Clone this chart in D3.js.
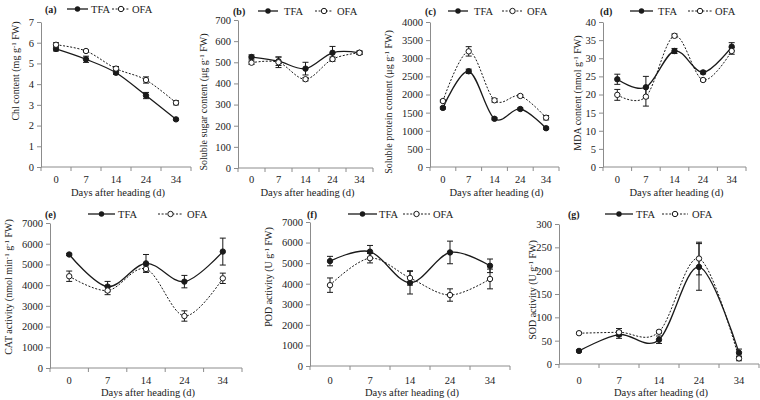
<!DOCTYPE html>
<html><head><meta charset="utf-8">
<script src="https://cdn.jsdelivr.net/npm/d3@7"></script>
<style>body{margin:0;background:#fff}svg{display:block}text{font-family:"Liberation Serif","Times New Roman",serif;fill:#222}</style>
</head><body>
<svg id="c" width="760" height="400"></svg>
<script>
const days = ["0","7","14","24","34"];
const seriesNames = ["TFA","OFA"];

const chlTFA = [5.7, 5.2, 4.55, 3.45, 2.3];
const chlTFAErr = [0.1, 0.15, 0.08, 0.15, 0.05];
const chlOFA = [5.9, 5.6, 4.75, 4.2, 3.1];
const chlOFAErr = [0.1, 0.05, 0.1, 0.15, 0.1];

const sugarTFA = [525, 505, 470, 545, 545];
const sugarTFAErr = [10, 20, 30, 30, 8];
const sugarOFA = [498, 500, 420, 515, 545];
const sugarOFAErr = [8, 25, 8, 10, 8];

const proteinTFA = [1630, 2640, 1330, 1600, 1070];
const proteinTFAErr = [30, 60, 30, 30, 30];
const proteinOFA = [1820, 3190, 1840, 1960, 1360];
const proteinOFAErr = [30, 130, 50, 30, 60];

const mdaTFA = [24.2, 22, 32, 26.1, 33.2];
const mdaTFAErr = [1.4, 3, 0.7, 0.4, 1.1];
const mdaOFA = [19.9, 19.4, 36.2, 24, 32];
const mdaOFAErr = [1.5, 2.6, 0.5, 0.3, 0.9];

const catTFA = [5480, 3930, 5050, 4170, 5620];
const catTFAErr = [50, 250, 430, 300, 650];
const catOFA = [4430, 3740, 4780, 2510, 4330];
const catOFAErr = [250, 200, 150, 250, 250];

const podTFA = [5100, 5560, 4050, 5520, 4870];
const podTFAErr = [230, 300, 550, 550, 330];
const podOFA = [3930, 5240, 4280, 3450, 4230];
const podOFAErr = [350, 230, 350, 300, 480];

const sodTFA = [28, 63, 52, 208, 24];
const sodTFAErr = [2, 8, 8, 50, 8];
const sodOFA = [66, 68, 69, 226, 12];
const sodOFAErr = [2, 8, 3, 35, 5];

const ticksA = [0,1,2,3,4,5,6,7];
const ticksB = [0,100,200,300,400,500,600,700];
const ticksC = [0,500,1000,1500,2000,2500,3000,3500,4000];
const ticksD = [0,5,10,15,20,25,30,35,40];
const ticksE = [0,1000,2000,3000,4000,5000,6000,7000];
const ticksG = [0,50,100,150,200,250,300];

const panelTags = ["(a)","(b)","(c)","(d)","(e)","(f)","(g)"];
const yTitles = [
  ["Chl content (mg g","-1"," FW)"],
  ["Soluble sugar content (μg g","-1"," FW)"],
  ["Soluble protein content (μg g","-1"," FW)"],
  ["MDA content (nmol g","-1"," FW)"],
  ["CAT activity (nmol min","-1"," g","-1"," FW)"],
  ["POD activity (U  g","-1"," FW)"],
  ["SOD activity (U g","-1"," FW)"]
];
const xTitle = "Days after heading (d)";

// layout (positions only)
const layout = [
  {x0:41, x1:191, yT:22, yB:167, yl:[15,71], lg:{tag:45,l1:[67,88],t1:91,l2:[112,130],t2:132,y:9}, xl:183, xt:196},
  {x0:238, x1:373, yT:20, yB:168, yl:[203,102], lg:{tag:233,l1:[258,278],t1:284,l2:[315,333],t2:337,y:11}, xl:183, xt:196},
  {x0:430, x1:559, yT:22, yB:167, yl:[388,102], lg:{tag:425,l1:[448,468],t1:474,l2:[502,523],t2:527,y:11}, xl:183, xt:196},
  {x0:603, x1:746, yT:22, yB:167, yl:[577,93], lg:{tag:600,l1:[630,653],t1:658,l2:[688,712],t2:715,y:11}, xl:183, xt:196},
  {x0:50, x1:242, yT:223, yB:368, yl:[8,287], lg:{tag:45,l1:[88,115],t1:118,l2:[158,183],t2:187,y:214}, xl:384, xt:396},
  {x0:310, x1:510, yT:222, yB:366, yl:[268,277], lg:{tag:307,l1:[348,377],t1:379,l2:[403,430],t2:433,y:214}, xl:384, xt:396},
  {x0:559, x1:759, yT:224, yB:364, yl:[532,290], lg:{tag:568,l1:[605,633],t1:636,l2:[662,688],t2:692,y:214}, xl:384, xt:396}
];

const panelData = [
  {tfa:chlTFA, tfaE:chlTFAErr, ofa:chlOFA, ofaE:chlOFAErr, ticks:ticksA},
  {tfa:sugarTFA, tfaE:sugarTFAErr, ofa:sugarOFA, ofaE:sugarOFAErr, ticks:ticksB},
  {tfa:proteinTFA, tfaE:proteinTFAErr, ofa:proteinOFA, ofaE:proteinOFAErr, ticks:ticksC},
  {tfa:mdaTFA, tfaE:mdaTFAErr, ofa:mdaOFA, ofaE:mdaOFAErr, ticks:ticksD},
  {tfa:catTFA, tfaE:catTFAErr, ofa:catOFA, ofaE:catOFAErr, ticks:ticksE},
  {tfa:podTFA, tfaE:podTFAErr, ofa:podOFA, ofaE:podOFAErr, ticks:ticksE},
  {tfa:sodTFA, tfaE:sodTFAErr, ofa:sodOFA, ofaE:sodOFAErr, ticks:ticksG}
];

const svg = d3.select("#c");
const axisColor = "#8c8c8c";
const lineColor = "#1a1a1a";

panelData.forEach((pd, i) => {
  const L = layout[i];
  const g = svg.append("g");
  const x = d3.scaleBand().domain(days).range([L.x0, L.x1]);
  const y = d3.scaleLinear().domain([0, d3.max(pd.ticks)]).range([L.yB, L.yT]);

  // y axis
  const ya = g.append("g").attr("transform", `translate(${L.x0},0)`)
    .call(d3.axisLeft(y).tickValues(pd.ticks).tickFormat(d3.format("d")).tickSize(4).tickSizeOuter(0).tickPadding(3));
  ya.select(".domain").attr("stroke", axisColor);
  ya.selectAll(".tick line").attr("stroke", axisColor);
  ya.selectAll(".tick text").style("font-size", "10.5px").style("font-family", '"Liberation Serif",serif').attr("fill", "#222");

  // x axis line + ticks between categories
  g.append("line").attr("x1", L.x0).attr("x2", L.x1).attr("y1", L.yB).attr("y2", L.yB).attr("stroke", axisColor);
  const bounds = days.map(d => x(d)).concat([L.x1]);
  g.selectAll(".xt").data(bounds).enter().append("line")
    .attr("x1", d => d).attr("x2", d => d).attr("y1", L.yB).attr("y2", L.yB + 4).attr("stroke", axisColor);
  g.selectAll(".xl").data(days).enter().append("text")
    .attr("x", d => x(d) + x.bandwidth() / 2).attr("y", L.xl)
    .attr("text-anchor", "middle").style("font-size", "10.5px").text(d => d);
  g.append("text").attr("x", (L.x0 + L.x1) / 2 + 2).attr("y", L.xt)
    .attr("text-anchor", "middle").style("font-size", "10.5px").text(xTitle);

  // y title
  const yt = g.append("text").attr("transform", `translate(${L.yl[0] + 4},${L.yl[1]}) rotate(-90)`)
    .attr("text-anchor", "middle").style("font-size", "10px");
  yTitles[i].forEach((part, k) => {
    const sup = part === "-1";
    yt.append("tspan").text(part)
      .attr("dy", sup ? -3.5 : (k > 0 && yTitles[i][k - 1] === "-1" ? 3.5 : 0))
      .style("font-size", sup ? "7px" : "10px");
  });

  const cx = d => x(d) + x.bandwidth() / 2;
  const curve = d3.curveCardinal.tension(0);
  const series = [
    {vals: pd.tfa, err: pd.tfaE, dash: null, fill: lineColor},
    {vals: pd.ofa, err: pd.ofaE, dash: "2,1.6", fill: "#fff"}
  ];
  series.forEach(s => {
    const pts = days.map((d, k) => ({d, v: s.vals[k], e: s.err[k]}));
    const eb = g.append("g");
    pts.forEach(p => {
      eb.append("line").attr("x1", cx(p.d)).attr("x2", cx(p.d)).attr("y1", y(p.v - p.e)).attr("y2", y(p.v + p.e)).attr("stroke", lineColor).attr("stroke-width", 1);
      [p.v - p.e, p.v + p.e].forEach(v => eb.append("line").attr("x1", cx(p.d) - 3).attr("x2", cx(p.d) + 3).attr("y1", y(v)).attr("y2", y(v)).attr("stroke", lineColor).attr("stroke-width", 1));
    });
    g.append("path").datum(pts)
      .attr("d", d3.line().x(p => cx(p.d)).y(p => y(p.v)).curve(curve))
      .attr("fill", "none").attr("stroke", lineColor).attr("stroke-width", s.dash ? 1 : 1.3)
      .attr("stroke-dasharray", s.dash);
  });
  series.forEach(s => {
    g.selectAll(null).data(days.map((d, k) => ({d, v: s.vals[k]}))).enter().append("circle")
      .attr("cx", p => cx(p.d)).attr("cy", p => y(p.v)).attr("r", 2.7)
      .attr("fill", s.fill).attr("stroke", lineColor).attr("stroke-width", 1);
  });

  // legend
  const lg = L.lg;
  g.append("text").attr("x", lg.tag).attr("y", lg.y + 3.5).style("font-size", "10px").style("font-weight", "bold").text(panelTags[i]);
  g.append("line").attr("x1", lg.l1[0]).attr("x2", lg.l1[1]).attr("y1", lg.y).attr("y2", lg.y).attr("stroke", lineColor).attr("stroke-width", 1.3);
  g.append("circle").attr("cx", (lg.l1[0] + lg.l1[1]) / 2).attr("cy", lg.y).attr("r", 2.7).attr("fill", lineColor);
  g.append("text").attr("x", lg.t1).attr("y", lg.y + 3.5).style("font-size", "10.5px").text(seriesNames[0]);
  g.append("line").attr("x1", lg.l2[0]).attr("x2", lg.l2[1]).attr("y1", lg.y).attr("y2", lg.y).attr("stroke", lineColor).attr("stroke-width", 1).attr("stroke-dasharray", "2,1.6");
  g.append("circle").attr("cx", (lg.l2[0] + lg.l2[1]) / 2).attr("cy", lg.y).attr("r", 2.7).attr("fill", "#fff").attr("stroke", lineColor);
  g.append("text").attr("x", lg.t2).attr("y", lg.y + 3.5).style("font-size", "10.5px").text(seriesNames[1]);
});
</script>
</body></html>
